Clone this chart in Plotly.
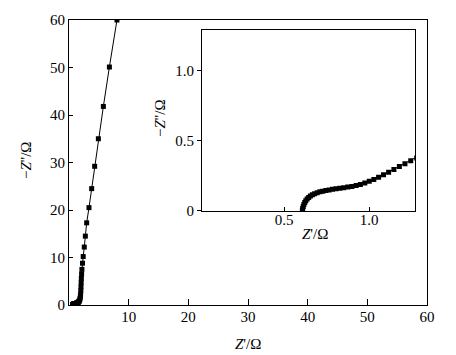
import plotly.graph_objects as go

# Impedance data (Nyquist plot)
z_real = [0.608, 0.610, 0.613, 0.617, 0.622, 0.628, 0.636, 0.645, 0.655, 0.667,
          0.680, 0.695, 0.711, 0.728, 0.746, 0.765, 0.785, 0.806, 0.828, 0.851,
          0.875, 0.899, 0.924, 0.949, 0.975, 1.001, 1.028, 1.056, 1.085, 1.115,
          1.146, 1.178, 1.211, 1.245, 1.280, 1.32, 1.36, 1.41, 1.46, 1.52,
          1.58, 1.65, 1.72, 1.79, 1.85, 1.90, 1.94, 1.98, 2.01, 2.04,
          2.07, 2.11, 2.16, 2.26, 2.38, 2.56, 2.74, 2.96, 3.35, 3.80,
          4.30, 4.92, 5.76, 6.77, 8.04]
z_imag = [0.005, 0.018, 0.032, 0.046, 0.060, 0.073, 0.085, 0.096, 0.106, 0.115,
          0.123, 0.130, 0.136, 0.141, 0.146, 0.150, 0.154, 0.158, 0.162, 0.166,
          0.170, 0.175, 0.182, 0.189, 0.200, 0.211, 0.224, 0.240, 0.258, 0.276,
          0.295, 0.316, 0.336, 0.357, 0.378, 0.40, 0.43, 0.46, 0.50, 0.55,
          0.62, 0.72, 0.86, 1.05, 1.35, 1.75, 2.3, 3.0, 3.8, 4.7,
          5.6, 6.5, 7.5, 8.8, 10.2, 12.2, 14.5, 17.3, 20.5, 24.5,
          29.2, 35.0, 41.8, 50.1, 60.0]

main_xticks = [10, 20, 30, 40, 50, 60]
main_yticks = [0, 10, 20, 30, 40, 50, 60]
inset_xticks = [0.5, 1.0]
inset_xlabels = ["0.5", "1.0"]
inset_yticks = [0, 0.5, 1.0]
inset_ylabels = ["0", "0.5", "1.0"]

FONT = "Liberation Serif, Times New Roman, serif"
W, H = 456, 355
L, R, T, B = 69, 29, 14, 50
PW, PH = W - L - R, H - T - B


def px(xp):
    return (xp - L) / PW


def py(yp):
    return (H - B - yp) / PH


fig = go.Figure()
for xa, ya in (("x", "y"), ("x2", "y2")):
    fig.add_trace(go.Scatter(
        x=z_real, y=z_imag, mode="lines+markers",
        line=dict(color="black", width=1),
        marker=dict(symbol="square", size=5, color="black"),
        xaxis=xa, yaxis=ya, cliponaxis=True, showlegend=False))

axis_common = dict(showgrid=False, zeroline=False, showline=True,
                   linecolor="black", mirror=True,
                   tickfont=dict(family=FONT, size=15, color="black"))

title_font = dict(family=FONT, size=15, color="black")


def label(text, xp, yp, angle=0):
    return dict(text=text, x=px(xp), y=py(yp), xref="paper", yref="paper",
                xanchor="center", yanchor="middle", showarrow=False,
                textangle=angle, font=title_font)


fig.update_layout(
    width=W, height=H,
    margin=dict(l=L, r=R, t=T, b=B),
    paper_bgcolor="white", plot_bgcolor="white",
    font=dict(family=FONT, size=15, color="black"),
    xaxis=dict(range=[0, 60], tickvals=main_xticks, ticks="inside", ticklen=6,
               tickcolor="black", linewidth=1.2, ticklabelstandoff=-2,
               **axis_common),
    yaxis=dict(range=[0, 60], tickvals=main_yticks, ticks="inside", ticklen=4,
               tickcolor="black", linewidth=1.2, **axis_common),
    xaxis2=dict(domain=[px(202), px(415)], anchor="y2", range=[0.018, 1.27],
                tickvals=inset_xticks, ticktext=inset_xlabels, ticks="inside",
                ticklen=4, tickcolor="black", linewidth=1, ticklabelstandoff=-5,
                **axis_common),
    yaxis2=dict(domain=[py(209), py(24)], anchor="x2", range=[0, 1.29],
                tickvals=inset_yticks, ticktext=inset_ylabels, ticks="outside",
                ticklen=4, tickcolor="black", linewidth=1, **axis_common),
    annotations=[
        label("<i>Z</i>'/Ω", 248, 345),
        label("−<i>Z</i>''/Ω", 26, 157, -90),
        label("<i>Z</i>'/Ω", 315, 233),
        label("−<i>Z</i>''/Ω", 160, 114, -90),
    ],
)

fig.write_html("out.html")
